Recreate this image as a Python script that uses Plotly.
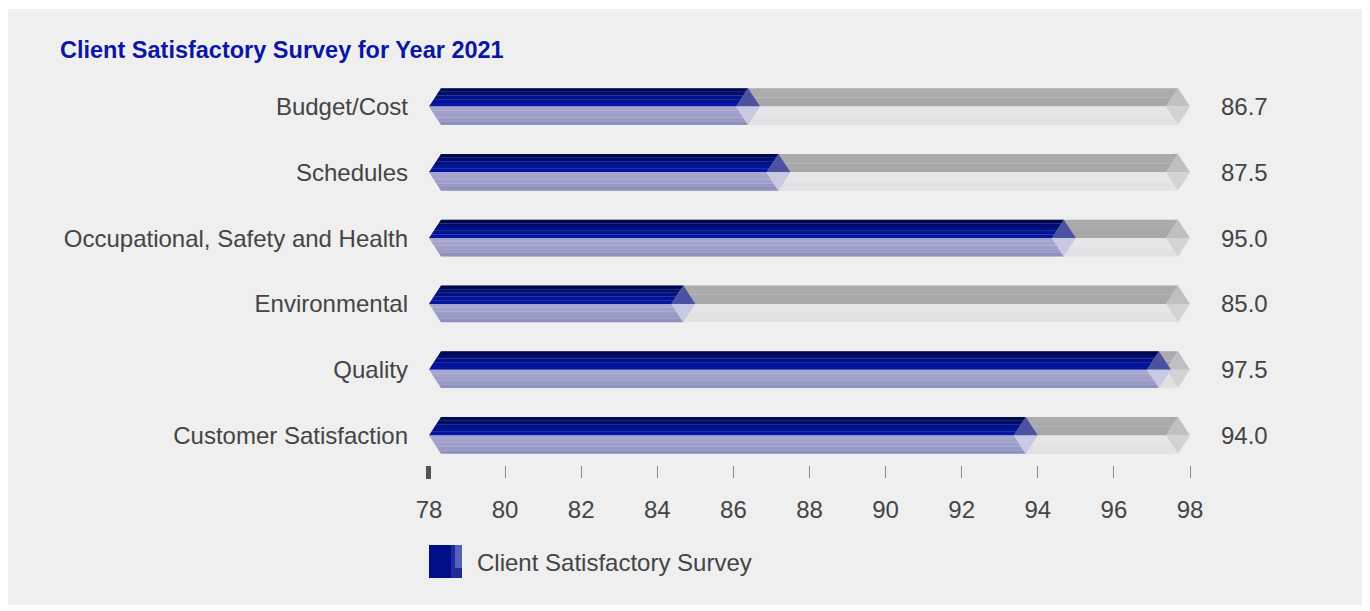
import plotly.graph_objects as go

# ---------------- data ----------------
categories = ["Budget/Cost", "Schedules", "Occupational, Safety and Health",
              "Environmental", "Quality", "Customer Satisfaction"]
scores = [86.7, 87.5, 95.0, 85.0, 97.5, 94.0]
x_ticks = [78, 80, 82, 84, 86, 88, 90, 92, 94, 96, 98]
series_name = "Client Satisfactory Survey"
title_text = "Client Satisfactory Survey for Year 2021"

# ---------------- layout constants (screen pixels) ----------------
W, H = 1370, 611
OFF = 8                        # page body margin
PL, PR, PT, PB = 429, 1190, 77, 465   # plot rectangle on screen
L, R, T, B = PL - OFF, W - (PR - OFF), PT - OFF, H - (PB - OFF)
X_MIN, X_MAX = x_ticks[0], x_ticks[-1]
PLOT_W = PR - PL
PLOT_H = PB - PT
PX_PER_UNIT = PLOT_W / (X_MAX - X_MIN)
BEV = 12 / PX_PER_UNIT        # bevel width in data units
HH = 0.28                     # half bar height in category units
FONT = "Liberation Sans, Arial, Helvetica, sans-serif"
TXT = "#444444"


def px_x(px):
    return (px - PL) / PLOT_W


def px_y(py):
    return (PB - py) / PLOT_H


polys = {}


def add_poly(color, xs, ys):
    d = polys.setdefault(color, ([], []))
    d[0].extend(xs + [xs[0], None])
    d[1].extend(ys + [ys[0], None])


def bar_bands(yc, xs, xe, top_colors, bot_colors):
    """Body of a bevelled bar, split into horizontal bands for shading."""
    def left(d):   # d = |yy-yc|/HH
        return xs + BEV * d

    def right(d):
        return xe - 2 * BEV + BEV * d

    n = len(top_colors)
    for k, c in enumerate(top_colors):
        f1, f2 = k / n, (k + 1) / n
        y1, y2 = yc - HH + f1 * HH, yc - HH + f2 * HH
        d1, d2 = 1 - f1, 1 - f2
        add_poly(c, [left(d1), right(d1), right(d2), left(d2)], [y1, y1, y2, y2])
    n = len(bot_colors)
    for k, c in enumerate(bot_colors):
        f1, f2 = k / n, (k + 1) / n
        y1, y2 = yc + f1 * HH, yc + f2 * HH
        d1, d2 = f1, f2
        add_poly(c, [left(d1), right(d1), right(d2), left(d2)], [y1, y1, y2, y2])


def diamond(yc, xe, ctop, cbot):
    add_poly(ctop, [xe - BEV, xe, xe - 2 * BEV], [yc - HH, yc, yc])
    add_poly(cbot, [xe - 2 * BEV, xe, xe - BEV], [yc, yc, yc + HH])


ypos = list(range(len(categories)))

# grey tracks (full scale)
for yc in ypos:
    bar_bands(yc, X_MIN, X_MAX, ["#ababad", "#a8a8aa"], ["#e6e6e8", "#e2e2e4"])
    diamond(yc, X_MAX, "#c0c0c2", "#d3d3d5")

# blue value bars
for yc, v in zip(ypos, scores):
    bar_bands(yc, X_MIN, v,
              ["#000950", "#000d6e", "#001086", "#011396", "#0416a4"],
              ["#a5a7d0", "#a1a3cc", "#9d9fc9", "#989ac5", "#8e90bd"])
    diamond(yc, v, "#4c51a2", "#c8c9e3")

fig = go.Figure()
for color, (xs, ys) in polys.items():
    fig.add_trace(go.Scatter(x=xs, y=ys, mode="lines", fill="toself",
                             fillcolor=color, line=dict(width=0),
                             hoverinfo="skip", showlegend=False))

shapes = []
# panel background
shapes.append(dict(type="rect", xref="paper", yref="paper", layer="below",
                   x0=px_x(6), x1=px_x(1362), y0=px_y(605), y1=px_y(9),
                   fillcolor="#efefef", line=dict(width=0)))
for i, c in enumerate(["#e0e0e0", "#e7e7e7", "#eeeeee", "#f6f6f6"]):
    shapes.append(dict(type="rect", xref="paper", yref="paper", layer="below",
                       x0=px_x(1362 + i * 1.5), x1=px_x(1363.5 + i * 1.5),
                       y0=px_y(605), y1=px_y(9),
                       fillcolor=c, line=dict(width=0)))
# heavier first tick (at the start of the x range, paper x = 0)
shapes.append(dict(type="rect", xref="paper", yref="paper",
                   xsizemode="pixel", xanchor=0, x0=-3, x1=2,
                   ysizemode="pixel", yanchor=0, y0=-1, y1=-14,
                   fillcolor="#555555", line=dict(width=0)))
# legend swatch
shapes.append(dict(type="rect", xref="paper", yref="paper",
                   x0=px_x(429), x1=px_x(462), y0=px_y(578), y1=px_y(545),
                   fillcolor="#000e8a", line=dict(width=0)))
shapes.append(dict(type="rect", xref="paper", yref="paper",
                   x0=px_x(451), x1=px_x(462), y0=px_y(578), y1=px_y(545),
                   fillcolor="#1f2a9c", line=dict(width=0)))
shapes.append(dict(type="rect", xref="paper", yref="paper",
                   x0=px_x(455), x1=px_x(462), y0=px_y(568), y1=px_y(545),
                   fillcolor="#5560b8", line=dict(width=0)))

annotations = []
for yc, v in zip(ypos, scores):
    annotations.append(dict(x=X_MAX, y=yc, xref="x", yref="y", text=f"{v:.1f}",
                            showarrow=False, xanchor="left", yanchor="middle",
                            xshift=29, font=dict(family=FONT, size=24, color=TXT)))
annotations.append(dict(x=px_x(475), y=px_y(562), xref="paper", yref="paper",
                        text=series_name, showarrow=False, xanchor="left",
                        yanchor="middle", font=dict(family=FONT, size=24, color=TXT)))

fig.update_layout(
    width=W, height=H,
    margin=dict(l=L, r=R, t=T, b=B, autoexpand=False),
    paper_bgcolor="white", plot_bgcolor="rgba(0,0,0,0)",
    showlegend=False,
    title=dict(text=title_text, xref="container", yref="container",
               x=(60 - OFF) / W, y=1 - (50 - OFF) / H, xanchor="left", yanchor="middle",
               font=dict(family=FONT, size=23.5, color="#0c16a6", weight="bold")),
    xaxis=dict(range=[X_MIN, X_MAX], tickvals=x_ticks, ticktext=[str(t) for t in x_ticks],
               ticks="outside", ticklen=12, tickwidth=1, tickcolor="#888888",
               showgrid=False, zeroline=False, showline=False,
               ticklabelstandoff=11,
               tickfont=dict(family=FONT, size=24, color=TXT)),
    yaxis=dict(range=[len(categories) - 0.55, -0.45], tickvals=ypos, ticktext=categories,
               ticks="", showgrid=False, zeroline=False, showline=False,
               ticklabelstandoff=20,
               tickfont=dict(family=FONT, size=24, color=TXT)),
    shapes=shapes, annotations=annotations,
)

fig.write_html("out.html")
